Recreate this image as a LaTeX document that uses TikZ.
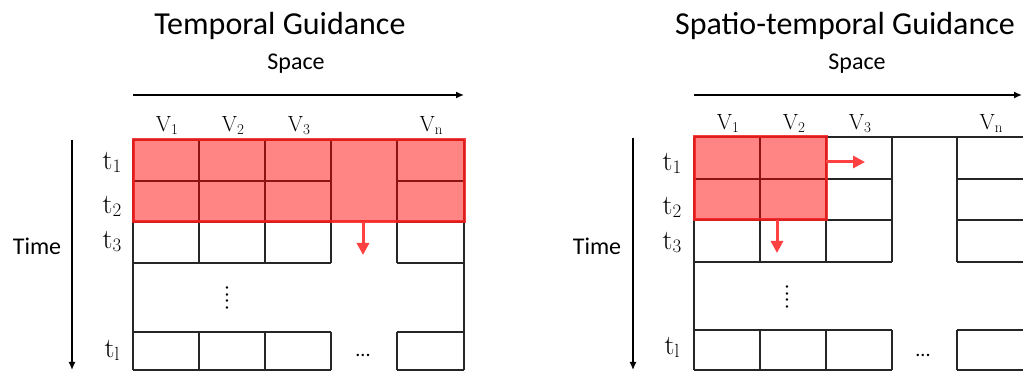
\documentclass[tikz,border=0pt]{standalone}
\usepackage[no-math]{fontspec}
\setmainfont{Carlito}
\usetikzlibrary{arrows.meta}
\definecolor{redline}{RGB}{245,30,30}
\definecolor{redarr}{RGB}{255,65,65}
\newcommand\vlabel[1]{V\raisebox{-3pt}{\fontsize{15}{15}\selectfont #1}}
\newcommand\tlabel[1]{t\raisebox{-3pt}{\fontsize{19}{19}\selectfont #1}}
\begin{document}
\begin{tikzpicture}[x=1pt,y=-1pt,
  gridline/.style={line width=1.4pt, draw=black!85},
  axis/.style={line width=1.4pt, -{Latex[length=8pt,width=7pt]}},
  redbox/.style={draw=redline, line width=3pt, fill=red, fill opacity=0.48, draw opacity=0.85, inner sep=0pt, outer sep=0pt, anchor=north west},
  redarrow/.style={draw=redarr, line width=3pt, -{Triangle[length=12pt,width=12pt]}},
  title/.style={font=\fontsize{32}{38}\selectfont, anchor=base, inner sep=0pt},
  axlab/.style={font=\fontsize{24}{29}\selectfont, anchor=base, inner sep=0pt},
  vlab/.style={font=\fontfamily{lmr}\fontsize{22}{26}\selectfont, anchor=base, inner sep=0pt},
  tlab/.style={font=\fontfamily{lmr}\fontsize{28}{32}\selectfont, anchor=base, inner sep=0pt},
  vdotsnode/.style={font=\fontsize{20}{24}\selectfont, rotate=90, inner sep=0pt},
  hdotsnode/.style={font=\fontsize{20}{24}\selectfont, inner sep=0pt}
]
\useasboundingbox (0,0) rectangle (1023,371);

% ---------------- Left panel: Temporal Guidance ----------------
\draw[gridline] (133,140) -- (464,140);
\foreach \y in {181,222,263,332,370}
  \draw[gridline] (133,\y) -- (331,\y) (397,\y) -- (464,\y);
\draw[gridline] (133,140) -- (133,370) (464,140) -- (464,370);
\foreach \x in {199,265,331,397}
  \draw[gridline] (\x,140) -- (\x,263) (\x,332) -- (\x,370);

\node[redbox, minimum width=331pt, minimum height=82pt] (redL) at (133,140) {};
\coordinate (aL) at (363,255);
\draw[redarrow] (redL.south -| aL) -- (aL);

\node[title] (titleL) at (280,35) {Temporal Guidance};
\node[axlab] (spaceL) at (296,70) {Space};
\coordinate (sL0) at (133,95);
\coordinate (sL1) at (464,95);
\draw[axis] (sL0) -- (sL1);
\node[axlab] (timeL) at (37,255) {Time};
\coordinate (tL0) at (72,140);
\coordinate (tL1) at (72,370);
\draw[axis] (tL0) -- (tL1);

\node[vlab] (v1L) at (167,132) {\vlabel{1}};
\node[vlab] (v2L) at (233,132) {\vlabel{2}};
\node[vlab] (v3L) at (299,132) {\vlabel{3}};
\node[vlab] (vnL) at (431,132) {\vlabel{n}};
\node[tlab] (t1L) at (112,170) {\tlabel{1}};
\node[tlab] (t2L) at (112,214) {\tlabel{2}};
\node[tlab] (t3L) at (112,249) {\tlabel{3}};
\node[tlab] (tlL) at (112,357) {\tlabel{l}};
\node[vdotsnode] (vdL) at (227,298) {.\kern1.6pt.\kern1.6pt.\kern1.6pt.};
\node[hdotsnode] (hdL) at (363,355) {...};

% ---------------- Right panel: Spatio-temporal Guidance ----------------
\draw[gridline] (694,137) -- (1024,137);
\foreach \y in {179,220,262,330,370}
  \draw[gridline] (694,\y) -- (892,\y) (957,\y) -- (1024,\y);
\draw[gridline] (694,137) -- (694,370) (1024,137) -- (1024,370);
\foreach \x in {760,826,892,957}
  \draw[gridline] (\x,137) -- (\x,262) (\x,330) -- (\x,370);

\node[redbox, minimum width=132pt, minimum height=83pt] (redR) at (694,137) {};
\coordinate (aR1) at (865,162);
\draw[redarrow] (redR.east |- aR1) -- (aR1);
\coordinate (aR2) at (777,253);
\draw[redarrow] (redR.south -| aR2) -- (aR2);

\node[title] (titleR) at (845,35) {Spatio-temporal Guidance};
\node[axlab] (spaceR) at (857,70) {Space};
\coordinate (sR0) at (694,95);
\coordinate (sR1) at (1022,95);
\draw[axis] (sR0) -- (sR1);
\node[axlab] (timeR) at (597,255) {Time};
\coordinate (tR0) at (633,138);
\coordinate (tR1) at (633,370);
\draw[axis] (tR0) -- (tR1);

\node[vlab] (v1R) at (728,130) {\vlabel{1}};
\node[vlab] (v2R) at (794,130) {\vlabel{2}};
\node[vlab] (v3R) at (860,130) {\vlabel{3}};
\node[vlab] (vnR) at (991,130) {\vlabel{n}};
\node[tlab] (t1R) at (672,171) {\tlabel{1}};
\node[tlab] (t2R) at (672,215) {\tlabel{2}};
\node[tlab] (t3R) at (672,250) {\tlabel{3}};
\node[tlab] (tlR) at (672,355) {\tlabel{l}};
\node[vdotsnode] (vdR) at (787,297) {.\kern1.6pt.\kern1.6pt.\kern1.6pt.};
\node[hdotsnode] (hdR) at (923,355) {...};
\end{tikzpicture}
\end{document}
